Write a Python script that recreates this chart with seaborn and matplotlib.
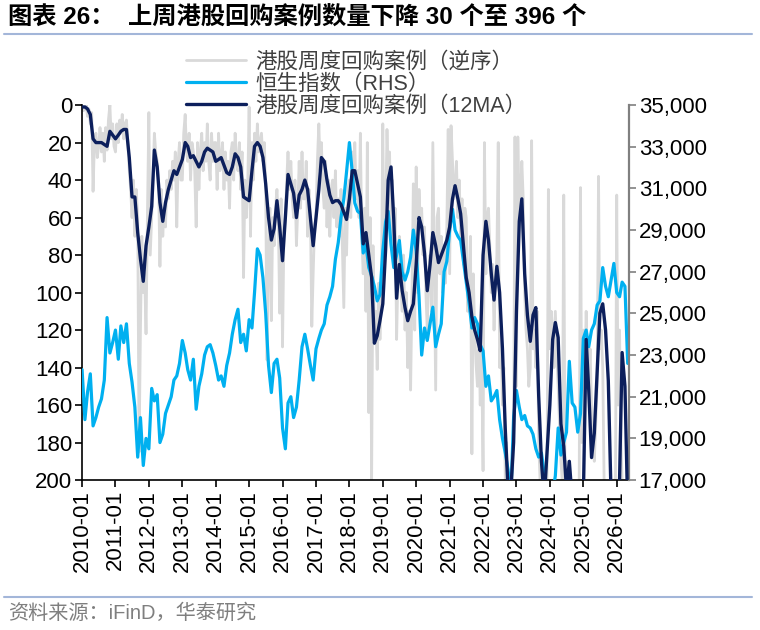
import numpy as np
import pandas as pd
import matplotlib
matplotlib.use('Agg')
import matplotlib.pyplot as plt
import matplotlib.dates as mdates
from matplotlib.lines import Line2D
from matplotlib.ticker import FuncFormatter, FixedLocator, MultipleLocator
import seaborn as sns

# =============================================================================
# Data
# =============================================================================

# weekly buyback cases, sampled twice a month (1st / 16th), left axis, reversed
buyback_2010 = [0, 3, 2, 0, 6, 2, 10, 4, 46, 20, 15, 28, 22, 12, 25, 15, 30, 12, 24, 8, 0, 18, 10, 22]
buyback_2011 = [25, 10, 20, 8, 15, 5, 18, 10, 8, 20, 35, 45, 60, 40, 70, 45, 60, 185, 120, 70, 100, 90, 122, 60]
buyback_2012 = [4, 80, 60, 40, 15, 25, 30, 40, 86, 45, 70, 55, 65, 40, 50, 35, 45, 30, 40, 25, 65, 30, 20, 40]
buyback_2013 = [40, 15, 5, 25, 30, 15, 40, 20, 25, 35, 65, 20, 45, 25, 15, 35, 20, 30, 10, 30, 40, 15, 30, 20]
buyback_2014 = [20, 45, 15, 35, 30, 20, 45, 25, 40, 30, 55, 25, 20, 40, 15, 30, 35, 20, 45, 25, 92, 40, 60, 45]
buyback_2015 = [1, 70, 20, 40, 15, 30, 10, 25, 20, 15, 30, 20, 45, 136, 80, 55, 115, 60, 75, 55, 45, 60, 111, 50]
buyback_2016 = [129, 70, 60, 40, 25, 45, 30, 50, 60, 40, 75, 55, 30, 55, 25, 50, 50, 30, 70, 45, 60, 118, 90, 65]
buyback_2017 = [60, 30, 10, 35, 20, 45, 55, 30, 65, 40, 70, 45, 40, 60, 35, 65, 50, 70, 45, 75, 108, 55, 80, 45]
buyback_2018 = [40, 60, 25, 45, 20, 50, 35, 60, 15, 70, 90, 55, 110, 20, 164, 60, 200, 75, 120, 110, 141, 95, 125, 100]
buyback_2019 = [10, 90, 60, 13, 40, 25, 70, 40, 85, 55, 125, 90, 70, 95, 110, 80, 120, 100, 140, 110, 152, 100, 42, 120]
buyback_2020 = [33, 100, 45, 65, 55, 80, 65, 100, 120, 90, 80, 110, 20, 85, 152, 60, 55, 90, 70, 100, 75, 95, 65, 13]
buyback_2021 = [90, 11, 30, 50, 45, 30, 60, 40, 70, 50, 85, 55, 60, 110, 100, 70, 186, 90, 120, 138, 150, 120, 160, 130]
buyback_2022 = [195, 20, 90, 60, 55, 75, 100, 85, 120, 95, 80, 20, 140, 120, 160, 140, 200, 180, 250, 220, 230, 200, 180, 17]
buyback_2023 = [150, 17, 60, 45, 30, 50, 100, 120, 130, 150, 140, 19, 130, 120, 140, 110, 180, 200, 240, 230, 250, 220, 200, 45]
buyback_2024 = [130, 110, 120, 140, 110, 130, 150, 170, 190, 200, 48, 210, 190, 230, 220, 250, 260, 240, 280, 250, 230, 210, 44, 180]
buyback_2025 = [120, 150, 110, 140, 150, 130, 160, 180, 190, 170, 150, 38, 130, 120, 140, 200, 220, 250, 260, 280, 250, 240, 200, 230]
buyback_2026 = [48, 160, 120, 180, 200, 230, 250, 260, 280]

# 12-week moving average, monthly, left axis, reversed
ma12_2010 = [1, 1, 2, 5, 18, 20, 20, 20, 21, 22, 14, 16]
ma12_2011 = [18, 16, 14, 13, 13, 28, 49, 49, 68, 82, 94, 75]
ma12_2012 = [65, 54, 24, 33, 52, 62, 52, 45, 40, 35, 37, 33]
ma12_2013 = [29, 20, 22, 28, 27, 30, 33, 30, 25, 23, 24, 25]
ma12_2014 = [30, 29, 28, 32, 36, 37, 33, 26, 28, 33, 49, 50]
ma12_2015 = [51, 35, 22, 20, 22, 28, 42, 60, 72, 66, 51, 65]
ma12_2016 = [83, 60, 37, 42, 47, 60, 48, 45, 40, 45, 60, 75]
ma12_2017 = [60, 45, 28, 30, 40, 48, 52, 51, 51, 53, 57, 61]
ma12_2018 = [50, 35, 35, 42, 49, 74, 68, 80, 92, 127, 123, 115]
ma12_2019 = [106, 77, 40, 33, 61, 103, 85, 99, 108, 115, 110, 106]
ma12_2020 = [85, 60, 65, 79, 99, 85, 68, 75, 84, 80, 76, 72]
ma12_2021 = [65, 50, 43, 50, 58, 75, 92, 100, 113, 120, 125, 131]
ma12_2022 = [80, 62, 72, 90, 104, 86, 100, 130, 173, 205, 205, 180]
ma12_2023 = [110, 62, 50, 90, 112, 126, 112, 108, 155, 190, 210, 185]
ma12_2024 = [160, 125, 116, 124, 170, 182, 205, 190, 210, 220, 215, 205]
ma12_2025 = [210, 125, 152, 188, 175, 143, 111, 106, 120, 147, 210, 220]
ma12_2026 = [215, 200, 132, 150, 215]

# Hang Seng Index, monthly, right axis
hsi_2010 = [22300, 19900, 21200, 22100, 19600, 20000, 20500, 20900, 21800, 24800, 23100, 23600]
hsi_2011 = [24200, 22800, 24400, 23600, 24500, 22600, 21700, 20500, 18100, 20000, 17700, 19000]
hsi_2012 = [18500, 21400, 20800, 21100, 18800, 19200, 20200, 20600, 21000, 21800, 22000, 22600]
hsi_2013 = [23700, 23100, 22300, 21800, 22800, 20400, 21500, 22100, 23000, 23400, 23500, 23100]
hsi_2014 = [22500, 21800, 22000, 21500, 22500, 23100, 24000, 24700, 25200, 23600, 24000, 23200]
hsi_2015 = [24700, 24300, 26000, 28100, 27800, 26700, 25000, 22500, 21200, 22600, 22800, 21900]
hsi_2016 = [19500, 18500, 20700, 21000, 20000, 20500, 21800, 23400, 24000, 23300, 22500, 21800]
hsi_2017 = [23300, 23800, 24200, 24500, 25400, 25800, 26300, 27600, 28400, 29600, 30500, 31800]
hsi_2018 = [33200, 31800, 30300, 29900, 29800, 27900, 28300, 27200, 26800, 26300, 25600, 25900]
hsi_2019 = [28000, 29400, 29900, 28300, 27200, 27800, 28500, 27000, 26600, 27000, 27700, 29000]
hsi_2020 = [28000, 25800, 23000, 24300, 23700, 24500, 25300, 23400, 24000, 24500, 27000, 27500]
hsi_2021 = [29000, 30000, 29000, 28700, 28500, 27500, 26500, 25500, 24300, 24800, 24500, 23500]
hsi_2022 = [23200, 21500, 22000, 20800, 21000, 21300, 19900, 19000, 18300, 17500, 16300, 20000]
hsi_2023 = [21300, 20500, 19900, 20100, 19600, 19500, 19200, 18500, 18100, 18300, 17300, 16600]
hsi_2024 = [16200, 16400, 17200, 19500, 18200, 18800, 19300, 22700, 20700, 20500, 19300, 20200]
hsi_2025 = [23800, 24200, 23400, 24200, 24500, 25400, 25600, 27200, 26300, 25800, 26600, 27400]
hsi_2026 = [26000, 25800, 26500, 26300, 22600]

hsi_ticks = [17000, 19000, 21000, 23000, 25000, 27000, 29000, 31000, 33000, 35000]

buyback = (buyback_2010 + buyback_2011 + buyback_2012 + buyback_2013 + buyback_2014
           + buyback_2015 + buyback_2016 + buyback_2017 + buyback_2018 + buyback_2019
           + buyback_2020 + buyback_2021 + buyback_2022 + buyback_2023 + buyback_2024
           + buyback_2025 + buyback_2026)
ma12 = (ma12_2010 + ma12_2011 + ma12_2012 + ma12_2013 + ma12_2014 + ma12_2015
        + ma12_2016 + ma12_2017 + ma12_2018 + ma12_2019 + ma12_2020 + ma12_2021
        + ma12_2022 + ma12_2023 + ma12_2024 + ma12_2025 + ma12_2026)
hsi = (hsi_2010 + hsi_2011 + hsi_2012 + hsi_2013 + hsi_2014 + hsi_2015 + hsi_2016
       + hsi_2017 + hsi_2018 + hsi_2019 + hsi_2020 + hsi_2021 + hsi_2022 + hsi_2023
       + hsi_2024 + hsi_2025 + hsi_2026)

months = pd.date_range('2010-01-01', '2026-05-01', freq='MS')
half_months = pd.DatetimeIndex(sorted(list(months) + list(months[:-1] + pd.Timedelta(days=15))))

df_month = pd.DataFrame({'date': months, 'ma12': ma12, 'hsi': hsi})
df_half = pd.DataFrame({'date': half_months, 'count': buyback})

LABEL_GRAY = '港股周度回购案例（逆序）'
LABEL_HSI = '恒生指数（RHS）'
LABEL_MA = '港股周度回购案例（12MA）'

# =============================================================================
# Plot
# =============================================================================

sns.set_theme(style='ticks')
plt.rcParams['font.family'] = ['Liberation Sans', 'Noto Sans CJK SC']
plt.rcParams['axes.unicode_minus'] = False

fig = plt.figure(figsize=(7.6, 6.3), dpi=100)
ax = fig.add_axes([0.108, 0.238, 0.7196, 0.5952])
ax2 = ax.twinx()
ax3 = ax.twinx()

sns.lineplot(data=df_half, x='date', y='count', ax=ax, color='#d9d9d9',
             linewidth=2.0, legend=False)
sns.lineplot(data=df_month, x='date', y='hsi', ax=ax2, color='#00b0f0',
             linewidth=2.3, legend=False)
sns.lineplot(data=df_month, x='date', y='ma12', ax=ax3, color='#0c1f5c',
             linewidth=2.4, legend=False)

xmin, xmax = pd.Timestamp('2010-01-01'), pd.Timestamp('2026-05-15')
for a in (ax, ax2, ax3):
    a.set_xlim(xmin, xmax)
    a.set_xlabel('')
    a.set_ylabel('')

ax.set_ylim(200, 0)
ax3.set_ylim(200, 0)
ax2.set_ylim(hsi_ticks[0], hsi_ticks[-1])

ax.yaxis.set_major_locator(MultipleLocator(20))
ax2.yaxis.set_major_locator(FixedLocator(hsi_ticks))
ax2.yaxis.set_major_formatter(FuncFormatter(lambda v, p: f'{int(v):,}'))
ax.xaxis.set_major_locator(mdates.YearLocator())
ax.xaxis.set_major_formatter(mdates.DateFormatter('%Y-%m'))

ax.tick_params(axis='both', direction='out', length=5, width=1.2,
               colors='black', labelsize=16, pad=2)
ax.tick_params(axis='x', labelrotation=90)
ax2.tick_params(axis='y', direction='out', length=5, width=1.2,
                colors='#808080', labelcolor='black', labelsize=16, pad=2)
ax3.axis('off')

for side in ('top', 'right'):
    ax.spines[side].set_visible(False)
for side in ('top', 'left', 'bottom'):
    ax2.spines[side].set_visible(False)
ax.spines['left'].set_color('black')
ax.spines['bottom'].set_color('black')
ax.spines['left'].set_linewidth(1.2)
ax.spines['bottom'].set_linewidth(1.2)
ax2.spines['right'].set_color('#808080')
ax2.spines['right'].set_linewidth(1.6)

handles = [ax.get_lines()[0], ax2.get_lines()[0], ax3.get_lines()[0]]
leg = fig.legend(handles, [LABEL_GRAY, LABEL_HSI, LABEL_MA],
                 loc='upper left', bbox_to_anchor=(0.245, 0.918),
                 frameon=False, fontsize=15.5, handlelength=2.8,
                 handletextpad=0.4, labelspacing=0.05,
                 borderpad=0, borderaxespad=0)
for t in leg.get_texts():
    t.set_color('#404040')

# title and source
fig.text(0.011, 0.971, '图表 26：  上周港股回购案例数量下降 30 个至 396 个',
         fontsize=17.5, fontweight='bold', va='center', ha='left', color='black')
fig.add_artist(Line2D([0.005, 0.99], [0.946, 0.946], transform=fig.transFigure,
                      color='#a3b6d9', linewidth=1.5))
fig.add_artist(Line2D([0.005, 0.99], [0.052, 0.052], transform=fig.transFigure,
                      color='#a3b6d9', linewidth=1.5))
fig.text(0.011, 0.027, '资料来源：iFinD，华泰研究', fontsize=14.5,
         color='#7f7f7f', va='center', ha='left')

fig.savefig('out.png', dpi=100)
